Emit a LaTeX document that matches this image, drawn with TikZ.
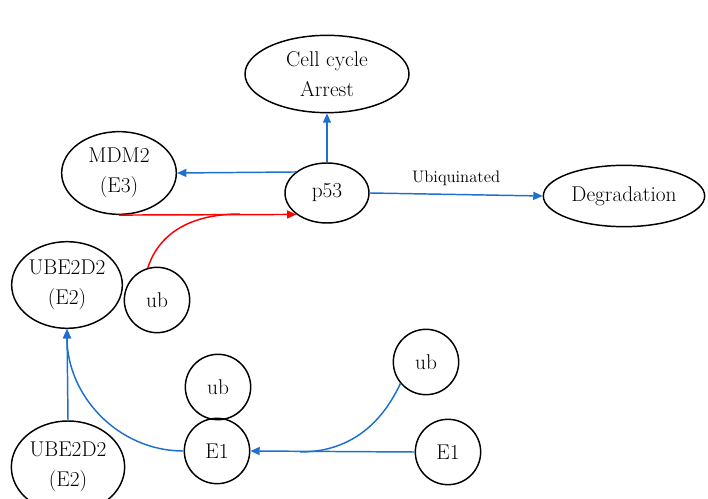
\documentclass[tikz,border=0pt]{standalone}
\usepackage{tikz}
\usetikzlibrary{shapes.geometric, arrows.meta}

\definecolor{ubblue}{RGB}{30,112,204}

\tikzset{
	blob/.style={draw, ellipse, line width=1.1pt, inner sep=-3pt, font=\fontsize{16}{23}\selectfont, align=center},
	ball/.style={draw, circle, line width=1.1pt, inner sep=0pt, minimum size=49pt, font=\fontsize{16}{23}\selectfont},
	bluearrow/.style={draw=ubblue, line width=1.1pt, -{Triangle[length=7pt,width=6pt]}},
	redarrow/.style={draw=red, line width=1.1pt, -{Triangle[length=7pt,width=6pt]}},
}

\begin{document}
\begin{tikzpicture}[x=0.75pt, y=-0.75pt]
	\useasboundingbox (0,0) rectangle (708,499);
	\clip (0,0) rectangle (708,499);

	%ellipses
	\node[blob, minimum width=123pt, minimum height=58pt] (arrest) at (327,74)  {Cell cycle\\Arrest};
	\node[blob, minimum width=63pt,  minimum height=45pt] (p53)    at (327,193) {p53};
	\node[blob, minimum width=86pt,  minimum height=62pt] (mdm)    at (119,173) {MDM2\\(E3)};
	\node[blob, minimum width=121pt, minimum height=46pt] (degr)   at (624,196) {Degradation};
	\node[blob, minimum width=83pt,  minimum height=65pt] (ubetop) at (67,285)  {UBE2D2\\(E2)};
	\node[blob, minimum width=85pt,  minimum height=69pt] (ubebot) at (68,467)  {UBE2D2\\(E2)};

	%circles
	\node[ball] (ubred)   at (157,300) {ub};
	\node[ball] (ubmid)   at (218,387) {ub};
	\node[ball] (e1left)  at (217,451) {E1};
	\node[ball] (ubright) at (426,362) {ub};
	\node[ball] (e1right) at (448,452) {E1};

	%join points
	\coordinate (redjoin)  at (240,214);
	\coordinate (bluejoin) at (300,452);

	%arrows
	\draw[bluearrow] (p53.north) -- (arrest.south);
	\draw[bluearrow] (p53.146) -- (mdm.east);
	\draw[bluearrow] (p53.east) -- node[above=3pt, font=\fontsize{12.5}{14}\selectfont] {Ubiquinated} (degr.west);
	\draw[redarrow] (mdm.south) -- (p53.215);
	\draw[draw=red, line width=1.1pt] (ubred.106) to[out=72, in=180] (redjoin);
	\draw[bluearrow] (ubebot.north) -- (ubetop.south);
	\draw[bluearrow] (e1left.west) to[out=180, in=-90] (ubetop.south);
	\draw[bluearrow] (e1right.west) -- (e1left.east);
	\draw[draw=ubblue, line width=1.1pt] (ubright.220) to[out=-115, in=0] (bluejoin);

	%\draw[help lines] (0,0) grid[step=50] (708,499);
\end{tikzpicture}
\end{document}
